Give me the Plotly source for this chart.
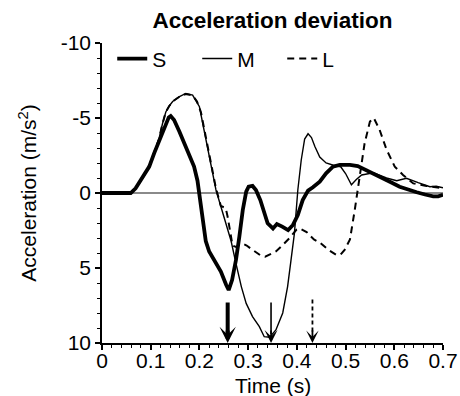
import plotly.graph_objects as go

# ---------------- data ----------------
s_t = [0, 0.02, 0.04, 0.059, 0.069, 0.083, 0.097, 0.107, 0.117, 0.128, 0.137, 0.141,
       0.148, 0.159, 0.172, 0.183, 0.189, 0.196, 0.201, 0.207, 0.213, 0.220, 0.231,
       0.244, 0.255, 0.260, 0.267, 0.275, 0.282, 0.289, 0.296, 0.301, 0.309, 0.316,
       0.325, 0.331, 0.340, 0.351, 0.359, 0.370, 0.382, 0.392, 0.402, 0.412, 0.423,
       0.433, 0.447, 0.460, 0.474, 0.488, 0.509, 0.525, 0.543, 0.560, 0.577, 0.594,
       0.611, 0.628, 0.646, 0.663, 0.680, 0.690, 0.700]
s_y = [0, 0, 0, 0, -0.31, -0.98, -1.76, -2.64, -3.5, -4.42, -5.04, -5.13,
       -4.87, -4.09, -3.1, -2.31, -1.76, -0.82, 0.47, 2.02, 3.2, 3.9, 4.47,
       5.24, 6.13, 6.47, 5.8, 4.47, 2.9, 1.13, -0.09, -0.42, -0.47, -0.2,
       0.47, 1.13, 2.02, 2.36, 2.07, 2.24, 2.47, 2.13, 1.47, 0.47, -0.16,
       -0.38, -0.76, -1.31, -1.76, -1.87, -1.87, -1.8, -1.53, -1.27, -0.98, -0.7,
       -0.42, -0.22, -0.05, 0.1, 0.22, 0.22, 0.12]

m_t = [0, 0.02, 0.04, 0.059, 0.069, 0.083, 0.097, 0.107, 0.117, 0.124, 0.131, 0.138,
       0.145, 0.159, 0.172, 0.186, 0.200, 0.207, 0.213, 0.220, 0.227, 0.234, 0.244,
       0.255, 0.265, 0.275, 0.286, 0.296, 0.309, 0.323, 0.333, 0.344, 0.357, 0.371,
       0.381, 0.388, 0.395, 0.402, 0.409, 0.416, 0.423, 0.430, 0.437, 0.447, 0.460,
       0.475, 0.490, 0.500, 0.512, 0.522, 0.533, 0.557, 0.584, 0.605, 0.625, 0.649,
       0.673, 0.686, 0.700]
m_y = [0, 0, 0, 0, -0.31, -0.98, -1.8, -2.7, -3.6, -4.6, -5.4, -5.8,
       -6.1, -6.42, -6.64, -6.53, -5.75, -4.6, -3.6, -2.3, -1.2, -0.2, 0.9,
       2.2, 3.2, 4.69, 6.24, 7.36, 8.24, 8.91, 9.58, 9.62, 9.13, 8.0,
       6.24, 4.47, 2.69, -0.2, -2.2, -3.6, -3.95, -3.7, -3.1, -2.4, -2.0,
       -1.85, -1.75, -1.3, -0.55, -0.9, -1.2, -1.35, -1.0, -0.82, -0.98, -0.69,
       -0.42, -0.45, -0.35]

l_t = [0, 0.02, 0.04, 0.059, 0.069, 0.083, 0.097, 0.107, 0.117, 0.124, 0.131, 0.138,
       0.145, 0.159, 0.172, 0.186, 0.195, 0.203, 0.210, 0.217, 0.224, 0.234, 0.244,
       0.254, 0.258, 0.263, 0.268, 0.275, 0.283, 0.290, 0.297, 0.305, 0.315, 0.325,
       0.335, 0.345, 0.357, 0.370, 0.385, 0.399, 0.406, 0.420, 0.435, 0.447, 0.465,
       0.481, 0.490, 0.498, 0.509, 0.519, 0.529, 0.539, 0.550, 0.558, 0.570, 0.584,
       0.601, 0.618, 0.639, 0.666, 0.700]
l_y = [0, 0, 0, 0, -0.31, -0.98, -1.8, -2.7, -3.6, -4.6, -5.4, -5.8,
       -6.1, -6.42, -6.6, -6.5, -6.1, -5.4, -4.3, -3.0, -1.9, -0.3, 0.87,
       1.0, 1.6, 2.6, 3.5, 3.6, 3.45, 3.4, 3.5, 3.7, 3.9, 4.15,
       4.25, 4.1, 3.9, 3.5, 3.0, 2.45, 2.36, 2.6, 3.1, 3.3, 3.8,
       4.13, 4.1, 3.8, 3.1, 1.1, -1.1, -3.3, -4.76, -5.0, -4.2, -2.9,
       -1.76, -1.2, -0.64, -0.47, -0.31]

series_names = ["S", "M", "L"]
arrow_times = [0.258, 0.347, 0.432]   # S, M, L event markers
arrow_tail = [7.3, 7.3, 7.1]
arrow_tip = 10

x_tickvals = [0, 0.1, 0.2, 0.3, 0.4, 0.5, 0.6, 0.7]
x_ticktext = ["0", "0.1", "0.2", "0.3", "0.4", "0.5", "0.6", "0.7"]
y_tickvals = [-10, -5, 0, 5, 10]
y_ticktext = ["-10", "-5", "0", "5", "10"]

FONT = "Liberation Sans, Arial, sans-serif"

fig = go.Figure()
styles = [dict(width=3.8, dash="solid"), dict(width=1.4, dash="solid"), dict(width=2.0, dash="7px,5px")]
for name, tt, yy, st in zip(series_names, [s_t, m_t, l_t], [s_y, m_y, l_y], styles):
    fig.add_trace(go.Scatter(x=tt, y=yy, mode="lines", name=name,
                             line=dict(color="black", width=st["width"], dash=st["dash"])))

# arrow shafts (dashed for L) and heads
shaft_w = [4, 1.6, 1.8]
shaft_dash = ["solid", "solid", "4px,3px"]
head_size = [0.68, 1.35, 1.15]
for t0, y0, w, d, hs in zip(arrow_times, arrow_tail, shaft_w, shaft_dash, head_size):
    fig.add_trace(go.Scatter(x=[t0, t0], y=[y0, arrow_tip - 0.6], mode="lines",
                             line=dict(color="black", width=w, dash=d),
                             showlegend=False, hoverinfo="skip"))
    fig.add_annotation(x=t0, y=arrow_tip, xref="x", yref="y", ax=0, ay=-14,
                       showarrow=True, arrowhead=3, arrowsize=hs, arrowwidth=w,
                       arrowcolor="black", text="")

# x-axis title as annotation under the tick labels
fig.add_annotation(text="Time (s)", xref="paper", yref="paper", x=0.5, y=-0.14,
                   xanchor="center", yanchor="middle", showarrow=False,
                   font=dict(family=FONT, size=21, color="black"))

fig.update_layout(
    width=460, height=396,
    margin=dict(l=102, r=17, t=43, b=53, autoexpand=False),
    paper_bgcolor="white", plot_bgcolor="white",
    font=dict(family=FONT, size=21, color="black"),
    title=dict(text="<b>Acceleration deviation</b>", x=0.5, xref="paper",
               y=1 - 20 / 396, yanchor="middle", yref="container",
               font=dict(family=FONT, size=22.5, color="black")),
    showlegend=True,
    legend=dict(orientation="h", x=0.03, y=0.947, xanchor="left", yanchor="middle",
                bgcolor="rgba(0,0,0,0)", font=dict(size=21), entrywidth=40,
                itemclick=False),
)
fig.update_xaxes(range=[0, 0.7], showgrid=False, zeroline=False, automargin=False,
                 showline=True, linecolor="black", linewidth=1.5,
                 ticks="outside", ticklen=5, tickwidth=1.5, tickcolor="black",
                 tickvals=x_tickvals, ticktext=x_ticktext, ticklabelstandoff=-7,
                 minor=dict(dtick=0.02, tick0=0, ticks="outside", ticklen=3,
                            tickwidth=1.2, tickcolor="black", showgrid=False))
fig.update_yaxes(range=[10, -10], showgrid=False, automargin=False,
                 zeroline=True, zerolinecolor="#8a8a8a", zerolinewidth=1.5,
                 showline=True, linecolor="black", linewidth=1.5,
                 ticks="outside", ticklen=5, tickwidth=1.5, tickcolor="black",
                 tickvals=y_tickvals, ticktext=y_ticktext,
                 minor=dict(dtick=1, tick0=0, ticks="outside", ticklen=3,
                            tickwidth=1.2, tickcolor="black", showgrid=False),
                 title=dict(text="Acceleration (m/s<sup>2</sup>)", standoff=18,
                            font=dict(size=21)))

fig.write_html("out.html")
